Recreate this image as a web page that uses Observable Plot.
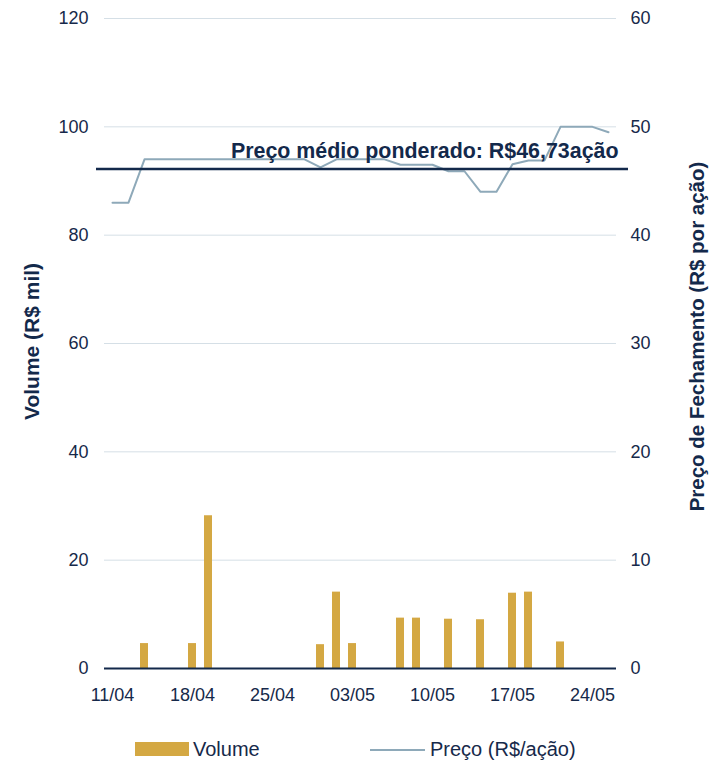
<!DOCTYPE html>
<html>
<head>
<meta charset="utf-8">
<script src="https://cdn.jsdelivr.net/npm/d3@7"></script>
<script src="https://cdn.jsdelivr.net/npm/@observablehq/plot@0.6"></script>
<style>
  body { margin: 0; background: #fff; font-family: "Liberation Sans", Arial, sans-serif; }
  #wrap { width: 722px; }
  #legend { position: relative; width: 722px; height: 54px; color: #16294a; font-size: 20px; }
  #legend .sw { position: absolute; }
  #legend .lb { position: absolute; line-height: 20px; }
</style>
</head>
<body>
<div id="wrap">
  <div id="chart"></div>
  <div id="legend">
    <div class="sw" style="left:135px; top:32px; width:54px; height:14px; background:#D4A843"></div>
    <div class="lb" style="left:193px; top:29px;">Volume</div>
    <div class="sw" style="left:370px; top:39px; width:55px; height:2px; background:#8EA9B9"></div>
    <div class="lb" style="left:430px; top:29px;">Preço (R$/ação)</div>
  </div>
</div>
<script>
// Trading days (category axis)
const dates = ["11/04","12/04","13/04","14/04","15/04","18/04","19/04","20/04","21/04","22/04",
               "25/04","26/04","27/04","28/04","29/04","03/05","04/05","05/05","06/05","09/05",
               "10/05","11/05","12/05","13/05","16/05","17/05","18/05","19/05","20/05","23/05",
               "24/05","25/05"];
// Volume (R$ mil)
const volume = [0,0,4.6,0,0, 4.6,28.2,0,0,0, 0,0,0,4.4,14.1, 4.6,0,0,9.3,9.3,
                0,9.1,0,9.0,0, 13.9,14.1,0,4.9,0, 0,0];
// Preço de fechamento (R$/ação)
const price = [43,43,47,47,47, 47,47,47,47,47, 47,47,47,46.25,47, 47,47,47,46.5,46.5,
               46.5,45.9,45.9,44,44, 46.55,46.9,46.9,50,50, 50,49.5];
const xTicks = ["11/04","18/04","25/04","03/05","10/05","17/05","24/05"];
const volTicks = [0,20,40,60,80,100,120];
const priceTicks = [0,10,20,30,40,50,60];
const refLevel = 46.1;           // level of the weighted-average line as drawn
const refLabel = "Preço médio ponderado: R$46,73ação";
const leftTitle = "Volume (R$ mil)";
const rightTitle = "Preço de Fechamento (R$ por ação)";

const k = 120 / 60; // price axis (0–60) onto volume axis (0–120)
const rows = dates.map((d, i) => ({date: d, volume: volume[i], price: price[i]}));
const navy = "#13294b";

const chart = Plot.plot({
  width: 722, height: 710,
  marginLeft: 104, marginRight: 106, marginTop: 18, marginBottom: 42,
  style: {fontFamily: "'Liberation Sans', Arial, sans-serif", fontSize: "18px", color: "#16294a", background: "#fff", overflow: "visible"},
  x: {type: "band", domain: dates, paddingInner: 0.52, paddingOuter: 0.26, axis: null},
  y: {domain: [0, 120], axis: null},
  marks: [
    Plot.ruleY(volTicks.filter(d => d > 0), {stroke: "#d5dfe6", strokeWidth: 1}),
    Plot.barY(rows, {x: "date", y: "volume", fill: "#D4A843"}),
    Plot.ruleY([0], {stroke: navy, strokeWidth: 2}),
    Plot.lineY(rows, {x: "date", y: d => d.price * k, stroke: "#8EA9B9", strokeWidth: 2}),
    Plot.ruleY([refLevel * k], {stroke: navy, strokeWidth: 2.5, insetLeft: -8, insetRight: -12}),
    Plot.text([{t: refLabel, v: refLevel * k}], {text: "t", y: "v", frameAnchor: "right", textAnchor: "end",
      dx: 2, dy: -18, fontWeight: "bold", fontSize: 21.4, fill: navy}),
    Plot.axisX({ticks: xTicks, tickSize: 0, tickPadding: 20, label: null}),
    Plot.axisY({anchor: "left", ticks: volTicks, tickSize: 0, tickPadding: 16, label: null}),
    Plot.axisY({anchor: "right", ticks: priceTicks.map(p => p * k), tickFormat: d => d / k, tickSize: 0, tickPadding: 14, label: null}),
    Plot.text([leftTitle], {frameAnchor: "left", textAnchor: "middle", dx: -72, dy: -2, rotate: -90, fontWeight: "bold", fontSize: 21, fill: navy}),
    Plot.text([rightTitle], {frameAnchor: "right", textAnchor: "middle", dx: 81, dy: -7, rotate: -90, fontWeight: "bold", fontSize: 20.5, fill: navy})
  ]
});
document.getElementById("chart").appendChild(chart);
</script>
</body>
</html>
